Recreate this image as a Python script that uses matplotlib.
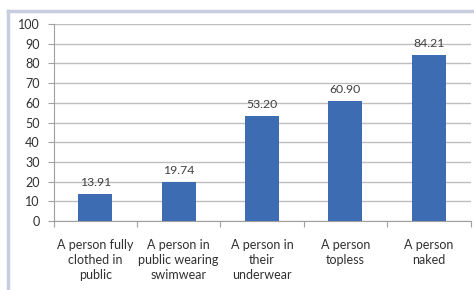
import matplotlib.pyplot as plt
from matplotlib.lines import Line2D

# ---------- DATA ----------
categories = [
    "A person fully\nclothed in\npublic",
    "A person in\npublic wearing\nswimwear",
    "A person in\ntheir\nunderwear",
    "A person\ntopless",
    "A person\nnaked",
]
values = [13.91, 19.74, 53.20, 60.90, 84.21]
y_ticks = [0, 10, 20, 30, 40, 50, 60, 70, 80, 90, 100]

plt.rcParams['font.family'] = ['Lato', 'DejaVu Sans']

fig = plt.figure(figsize=(4.74, 2.90), dpi=100)
ax = fig.add_axes([53.5 / 474, 1 - 221 / 290, 417 / 474, 197 / 290])

# outer chart frame (left + top edges visible)
fig.add_artist(Line2D([8 / 474, 8 / 474], [0, 1 - 11 / 290], transform=fig.transFigure,
                      color='#C9CDE0', lw=2.5))
fig.add_artist(Line2D([8 / 474, 1], [1 - 11 / 290, 1 - 11 / 290], transform=fig.transFigure,
                      color='#C9CDE0', lw=2.5))

x = range(len(values))
ax.bar(x, values, width=0.41, color='#3D6CB3', zorder=3)

for xi, v in zip(x, values):
    ax.text(xi, v + 3.0, f"{v:.2f}", ha='center', va='bottom', fontsize=8.8, color='#404040')

ax.set_xlim(-0.5, len(values) - 0.5)
ax.set_ylim(0, 100)
ax.set_yticks(y_ticks)
ax.yaxis.grid(True, color='#BEBEBE', lw=1)
ax.set_axisbelow(True)

ax.set_xticks([i + 0.5 for i in range(-1, len(values))], minor=False)
ax.set_xticklabels([])
ax.set_xticks(list(x), minor=True)
ax.set_xticklabels(categories, minor=True, fontsize=9, color='#303030', linespacing=1.3)
ax.tick_params(axis='x', which='minor', length=0, pad=13)
ax.tick_params(axis='x', which='major', length=4, color='#A0A0A0')
ax.tick_params(axis='y', length=4, color='#A0A0A0', labelsize=9, labelcolor='#303030', pad=6)

for s in ['top', 'right']:
    ax.spines[s].set_visible(False)
ax.spines['left'].set_color('#A0A0A0')
ax.spines['bottom'].set_color('#A0A0A0')

fig.savefig("out.png", dpi=100)
